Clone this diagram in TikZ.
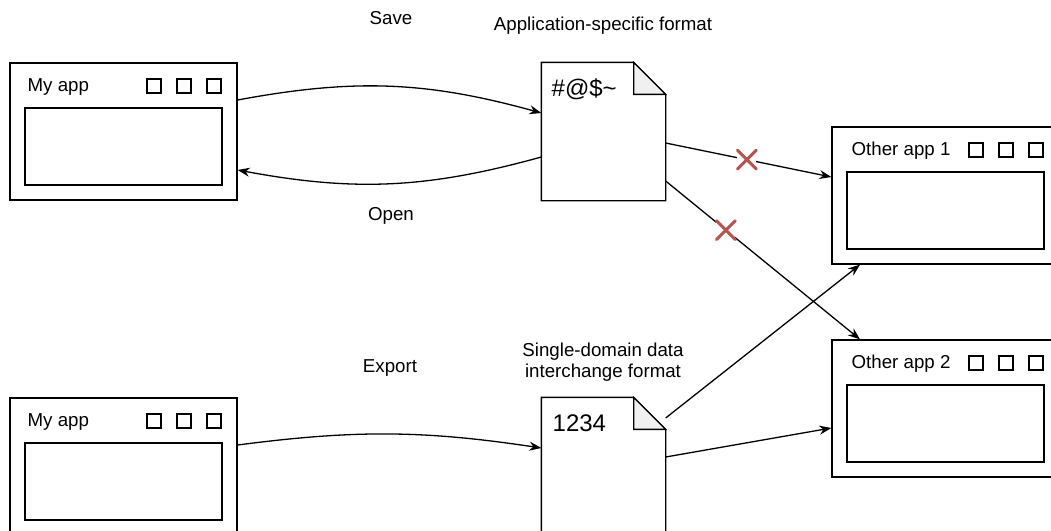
\documentclass[tikz,border=0pt]{standalone}
\usepackage{fontspec}
\setmainfont{Liberation Sans}
\usetikzlibrary{arrows.meta}
\definecolor{crossred}{HTML}{B85450}
\definecolor{foldgray}{HTML}{F0F0F0}
\begin{document}
\begin{tikzpicture}
    [x=1pt,y=-1pt,line width=1.3pt,
    win/.style={draw,rectangle,minimum width=227pt,minimum height=137pt,inner sep=0pt},
    pane/.style={draw,rectangle,minimum width=197pt,minimum height=77pt,inner sep=0pt},
    btn/.style={draw,rectangle,minimum size=14pt,inner sep=0pt,line width=1.1pt},
    doc/.style={rectangle,minimum width=123pt,minimum height=137pt,inner sep=0pt},
    lbl/.style={font=\fontsize{18.7}{21}\selectfont,inner sep=0pt},
    big/.style={font=\fontsize{24}{28}\selectfont,inner sep=0pt,anchor=west},
    flow/.style={-{Stealth[length=12pt,width=9pt]}},
    nope/.style={rectangle,fill=white,minimum size=19pt,inner sep=0pt,outer sep=0pt},
    xmark/.style={crossred,line width=3pt,line cap=round}]
    \clip (0,0) rectangle (1051,530);
    %my app, top
    \node[win] (app1) at (123.5,131.5) {};
    \node[pane] (app1p) at (123.5,146.5) {};
    \node[lbl,anchor=west] (app1t) at (27,87) {My app};
    \node[btn] (app1b1) at (154,86) {};
    \node[btn] (app1b2) at (184,86) {};
    \node[btn] (app1b3) at (214,86) {};
    %my app, bottom
    \node[win] (app2) at (123.5,466.5) {};
    \node[pane] (app2p) at (123.5,481.5) {};
    \node[lbl,anchor=west] (app2t) at (27,422) {My app};
    \node[btn] (app2b1) at (154,421) {};
    \node[btn] (app2b2) at (184,421) {};
    \node[btn] (app2b3) at (214,421) {};
    %other app 1
    \node[win] (oth1) at (945.5,195.5) {};
    \node[pane] (oth1p) at (945.5,210.5) {};
    \node[lbl,anchor=west] (oth1t) at (851,151) {Other app 1};
    \node[btn] (oth1b1) at (976,150) {};
    \node[btn] (oth1b2) at (1006,150) {};
    \node[btn] (oth1b3) at (1036,150) {};
    %other app 2
    \node[win] (oth2) at (945.5,408.5) {};
    \node[pane] (oth2p) at (945.5,423.5) {};
    \node[lbl,anchor=west] (oth2t) at (851,364) {Other app 2};
    \node[btn] (oth2b1) at (976,363) {};
    \node[btn] (oth2b2) at (1006,363) {};
    \node[btn] (oth2b3) at (1036,363) {};
    %application-specific file
    \node[doc] (doc1) at (603.5,131.5) {};
    \draw[fill=white] (doc1.north west) -- ([xshift=-32pt]doc1.north east) -- ([yshift=-32pt]doc1.north east)
        -- (doc1.south east) -- (doc1.south west) -- cycle;
    \draw[fill=foldgray] ([xshift=-32pt]doc1.north east) -- ([xshift=-32pt,yshift=-32pt]doc1.north east)
        -- ([yshift=-32pt]doc1.north east) -- cycle;
    \node[big] (doc1t) at (551,89) {\#@\$\textasciitilde};
    %interchange file
    \node[doc] (doc2) at (603.5,466.5) {};
    \draw[fill=white] (doc2.north west) -- ([xshift=-32pt]doc2.north east) -- ([yshift=-32pt]doc2.north east)
        -- (doc2.south east) -- (doc2.south west) -- cycle;
    \draw[fill=foldgray] ([xshift=-32pt]doc2.north east) -- ([xshift=-32pt,yshift=-32pt]doc2.north east)
        -- ([yshift=-32pt]doc2.north east) -- cycle;
    \node[big] (doc2t) at (552,423) {1234};
    %labels
    \node[lbl] (save) at (391,18) {Save};
    \node[lbl] (open) at (391,216) {Open};
    \node[lbl] (export) at (390,368) {Export};
    \node[lbl] (fmt1) at (603,26) {Application-specific format};
    \node[lbl,align=center] (fmt2) at (603,362) {Single-domain data\\interchange format};
    %save, open, export
    \draw[flow] ([yshift=31.5pt]app1.east) to[bend left=13] ([yshift=18.5pt]doc1.west);
    \draw[flow] ([yshift=-25.5pt]doc1.west) to[bend left=13] ([yshift=-38.5pt]app1.east);
    \draw[flow] ([yshift=21.5pt]app2.east) to[bend left=8] ([yshift=18.5pt]doc2.west);
    %to the other apps
    \draw[flow] ([yshift=-11.5pt]doc1.east) -- node[nope,pos=0.49] (x1) {} ([yshift=18.5pt]oth1.west);
    \draw[flow] ([yshift=-49.5pt]doc1.east) -- node[nope,pos=0.31] (x2) {} ([xshift=-85.5pt]oth2.north);
    \draw[flow] ([yshift=48.5pt]doc2.east) -- ([xshift=-85.5pt]oth1.south);
    \draw[flow] ([yshift=9.5pt]doc2.east) -- ([yshift=-19.5pt]oth2.west);
    %crosses
    \draw[xmark] (x1.north west) -- (x1.south east) (x1.north east) -- (x1.south west);
    \draw[xmark] (x2.north west) -- (x2.south east) (x2.north east) -- (x2.south west);
\end{tikzpicture}
\end{document}
